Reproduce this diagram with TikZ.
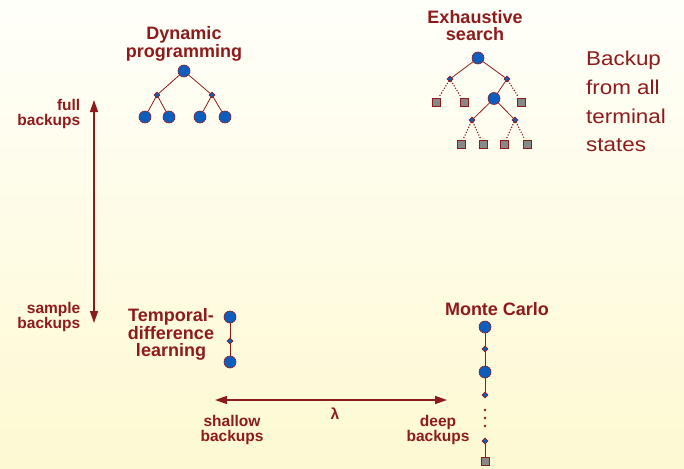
\documentclass[tikz,border=0pt]{standalone}
\usepackage{fontspec}
\setmainfont{Liberation Sans}
\newfontfamily\widesans[FakeStretch=1.12]{Liberation Sans}
\usetikzlibrary{arrows.meta,shapes.geometric}
\definecolor{dred}{RGB}{142,27,27}
\definecolor{nblue}{RGB}{12,94,190}
\definecolor{sqgray}{RGB}{136,136,136}
\definecolor{bgtop}{RGB}{255,255,250}
\definecolor{bgbot}{RGB}{253,249,210}
\begin{document}
\begin{tikzpicture}[x=1pt,y=-1pt,
  big/.style={circle,fill=nblue,draw=dred,line width=0.6pt,minimum size=12pt,inner sep=0pt},
  dia/.style={diamond,fill=nblue,draw=dred,line width=0.6pt,minimum size=6pt,inner sep=0pt},
  term/.style={rectangle,fill=sqgray,draw=dred,line width=0.8pt,minimum size=8pt,inner sep=0pt},
  tdot/.style={circle,fill=dred,minimum size=2.8pt,inner sep=0pt},
  tedge/.style={draw=dred,line width=0.8pt},
  dedge/.style={draw=dred,line width=1.6pt,line cap=round,dash pattern=on 0pt off 2.8pt},
  title/.style={font=\bfseries\fontsize{18}{16.7}\selectfont,text=dred,align=center,inner sep=0pt,anchor=base},
  lab/.style={font=\bfseries\fontsize{15.5}{15}\selectfont,text=dred,inner sep=0pt},
  arr/.style={dred,line width=1.5pt,{Triangle[length=12pt,width=8pt]}-{Triangle[length=12pt,width=8pt]}}
]
\fill[top color=bgtop,bottom color=bgbot] (0,0) rectangle (684,468);
\useasboundingbox (0,0) rectangle (684,468);

% titles (base anchor = last line's baseline)
\node[title] (dpt) at (184,57.3) {Dynamic\\programming};
\node[title] (est) at (475,40.7) {Exhaustive\\search};
\node[title] (mct) at (497,315) {Monte Carlo};
\node[title,font=\bfseries\fontsize{18}{17.5}\selectfont] (tdt) at (171,356.5) {Temporal-\\difference\\learning};
\node[anchor=base west,inner sep=0pt,align=left,text=dred,font=\widesans\fontsize{20}{28.7}\selectfont] (bft) at (586,151.7) {Backup\\from all\\terminal\\states};

% axis labels
\node[lab,align=right,anchor=base east] (fb) at (80.5,125) {full\\backups};
\node[lab,align=right,anchor=base east] (sb) at (80.5,328.5) {sample\\backups};
\node[lab,align=center,anchor=base] (shb) at (232,441) {shallow\\backups};
\node[lab,align=center,anchor=base] (dpb) at (438,441) {deep\\backups};
\node[lab] (lam) at (335,413.5) {λ};

% arrows
\coordinate (vt) at (94,100);
\coordinate (vb) at (94,323);
\draw[arr] (vt) -- (vb);
\coordinate (hl) at (215,400);
\coordinate (hr) at (447,400);
\draw[arr] (hl) -- (hr);

% dynamic programming tree
\node[big] (p0) at (184,71) {};
\node[dia] (pd1) at (157,95) {};
\node[dia] (pd2) at (212,95) {};
\node[big] (p1) at (145,117) {};
\node[big] (p2) at (169,117) {};
\node[big] (p3) at (200,117) {};
\node[big] (p4) at (225,117) {};
\draw[tedge] (p0) -- (pd1);
\draw[tedge] (p0) -- (pd2);
\draw[tedge] (pd1) -- (p1);
\draw[tedge] (pd1) -- (p2);
\draw[tedge] (pd2) -- (p3);
\draw[tedge] (pd2) -- (p4);

% exhaustive search tree
\node[big] (e0) at (478,58) {};
\node[dia] (ed1) at (450,79) {};
\node[dia] (ed2) at (507,79) {};
\node[term] (es1) at (436,102) {};
\node[term] (es2) at (464,102) {};
\node[term] (es3) at (521.5,102) {};
\node[big] (e1) at (494,98.5) {};
\node[dia] (ed3) at (472,120) {};
\node[dia] (ed4) at (515,120) {};
\node[term] (es4) at (461,144) {};
\node[term] (es5) at (483,144) {};
\node[term] (es6) at (504,144) {};
\node[term] (es7) at (527,144) {};
\draw[tedge] (e0) -- (ed1);
\draw[tedge] (e0) -- (ed2);
\draw[tedge] (ed2) -- (e1);
\draw[tedge] (e1) -- (ed3);
\draw[tedge] (e1) -- (ed4);
\draw[dedge] (ed1) -- (es1);
\draw[dedge] (ed1) -- (es2);
\draw[dedge] (ed2) -- (es3);
\draw[dedge] (ed3) -- (es4);
\draw[dedge] (ed3) -- (es5);
\draw[dedge] (ed4) -- (es6);
\draw[dedge] (ed4) -- (es7);

% temporal difference
\node[big] (t1) at (230,317) {};
\node[dia] (td) at (230,341) {};
\node[big] (t2) at (230,362) {};
\draw[tedge] (t1) -- (td) -- (t2);

% monte carlo
\node[big] (m1) at (485,327) {};
\node[dia] (m2) at (485,349) {};
\node[big] (m3) at (485,372) {};
\node[dia] (m4) at (485,395) {};
\node[tdot] (k1) at (485,410) {};
\node[tdot] (k2) at (485,418) {};
\node[tdot] (k3) at (485,426) {};
\node[dia] (m5) at (485,441) {};
\node[term] (m6) at (485,461) {};
\draw[tedge] (m1) -- (m2) -- (m3) -- (m4);
\draw[tedge] (m5) -- (m6);
\end{tikzpicture}
\end{document}
